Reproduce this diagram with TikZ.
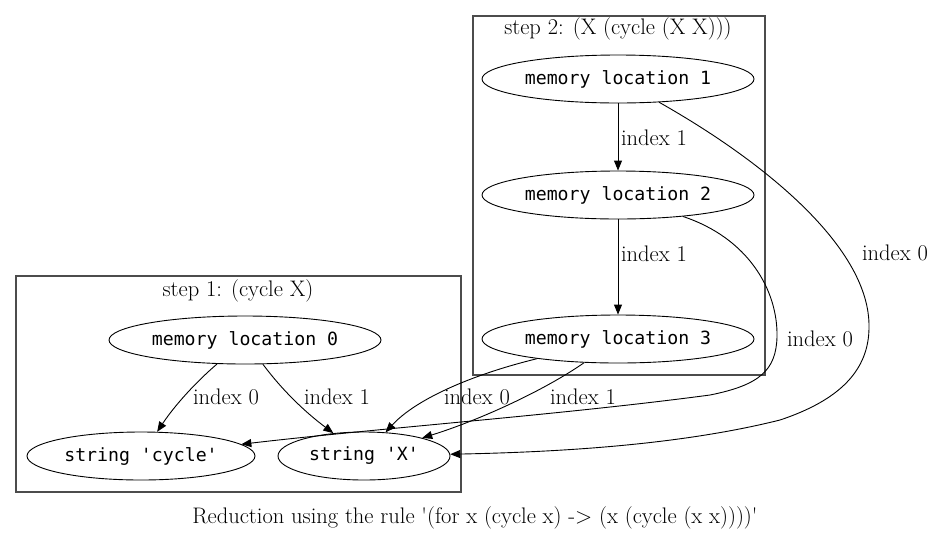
\documentclass[tikz,border=0pt]{standalone}
\usepackage{fontspec}
\newfontfamily\memfont{DejaVu Sans Mono}
\usetikzlibrary{shapes.geometric,arrows.meta}

\tikzset{
  mem/.style={draw, ellipse, inner sep=0pt, line width=0.9pt,
    minimum width=#1, minimum height=48pt,
    font=\fontsize{18.2}{22}\memfont},
  mem/.default=272pt,
  lbl/.style={inner sep=0pt, font=\fontsize{22.5}{26}\selectfont},
  edge/.style={line width=0.9pt, -{Triangle[length=10pt,width=8pt]}},
  clusterbox/.style={draw=black!70, line width=1.2pt}
}

\begin{document}
\begin{tikzpicture}[x=1pt, y=-1pt]
\useasboundingbox (0,0) rectangle (936,539);

% step 1
\draw[clusterbox] (16,276) rectangle (461,492);
\node[lbl] (s1) at (238,291) {step 1: (cycle X)};
\node[mem] (m0) at (245,340) {memory location 0};
\node[mem=228pt] (cyc) at (141,456) {string 'cycle'};
\node[mem=172pt] (strx) at (364,456) {string 'X'};

% step 2
\draw[clusterbox] (473,16) rectangle (765,375);
\node[lbl] (s2) at (618,29) {step 2: (X (cycle (X X)))};
\foreach \i/\y in {1/79, 2/195, 3/339}
  \node[mem] (m\i) at (618,\y) {memory location \i};

\draw[edge] (m0) .. controls (196,382) and (175,405) .. (cyc);
\node[lbl] (l00) at (226,397) {index 0};
\draw[edge] (m0) .. controls (282,390) and (305,412) .. (strx);
\node[lbl] (l01) at (337,397) {index 1};

\draw[edge] (m1) -- (m2);
\node[lbl] (l11) at (654,138) {index 1};
\draw[edge] (m2) -- (m3);
\node[lbl] (l21) at (654,254) {index 1};

\draw[edge] (m3) .. controls (470,375) and (415,400) .. (strx);
\node[lbl] (l30) at (477,397) {index 0};
\draw[edge] (m3) .. controls (545,390) and (480,420) .. (strx);
\node[lbl] (l31) at (583,397) {index 1};

\draw[edge] (m2) .. controls (748,238) and (778,290) .. (777,337)
  .. controls (776,370) and (760,385) .. (710,395)
  .. controls (560,415) and (380,428) .. (cyc);
\node[lbl] (l20) at (820,339) {index 0};

\draw[edge] (m1) .. controls (770,165) and (870,250) .. (869,327)
  .. controls (869,370) and (840,400) .. (780,420)
  .. controls (680,445) and (560,452) .. (strx);
\node[lbl] (l10) at (895,253) {index 0};

\node[lbl] (cap) at (475,518) {Reduction using the rule \textquotesingle(for x (cycle x) -> (x (cycle (x x))))\textquotesingle};
\end{tikzpicture}
\end{document}
